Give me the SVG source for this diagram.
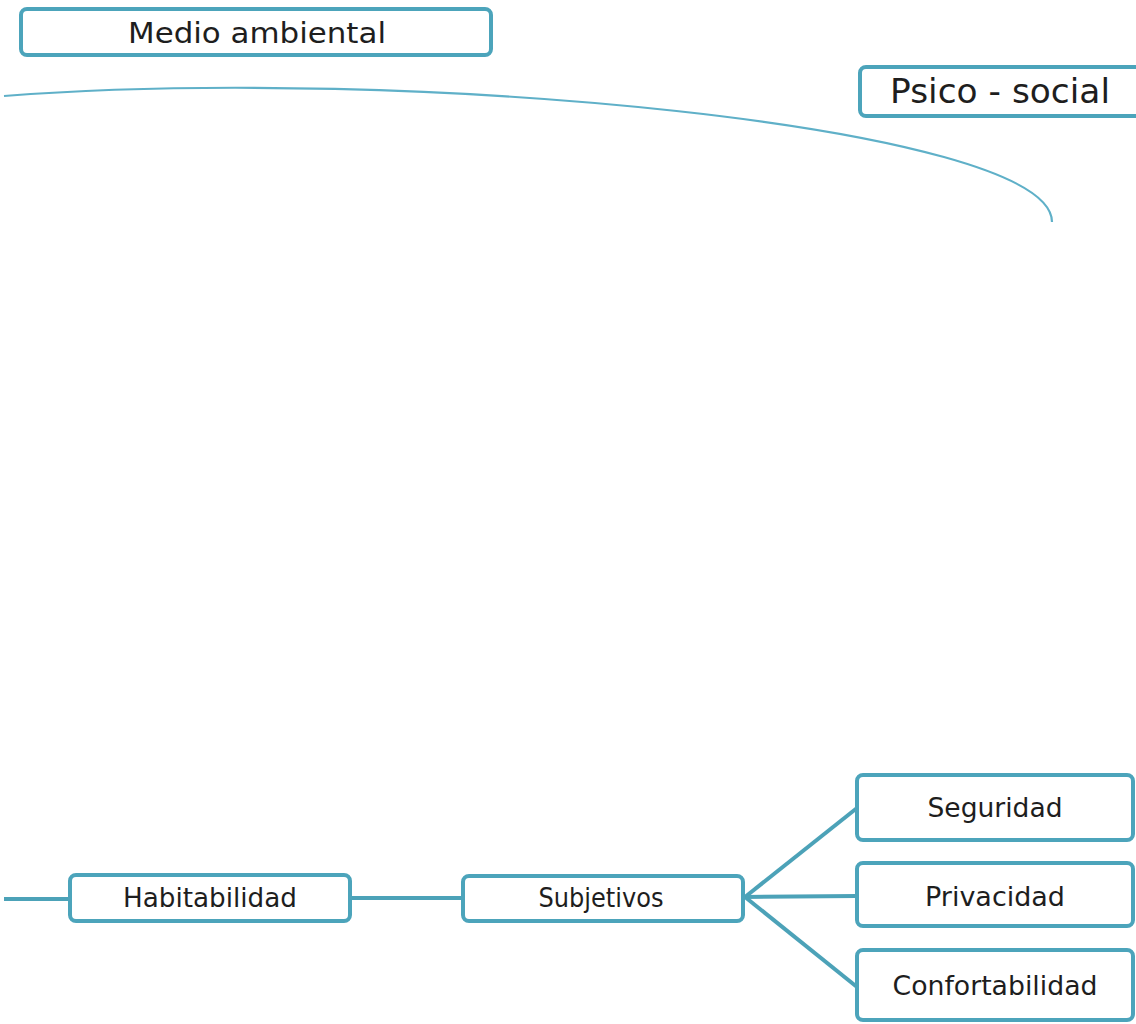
<svg xmlns="http://www.w3.org/2000/svg" width="1136" height="1024" viewBox="0 0 1136 1024">
<style>
.box{fill:#ffffff;stroke:#4ca4bb;stroke-width:4}
.lbl{font-family:"DejaVu Sans","Liberation Sans",sans-serif;fill:#1e1e1e;text-anchor:middle}
.conn{fill:none;stroke:#4ca2b8;stroke-width:4}
.arc{fill:none;stroke:#5fb0c8;stroke-width:2.2}
</style>
<rect width="1136" height="1024" fill="#ffffff"/>
<g id="connectors">
<path class="arc" d="M 4 96 C 400 65, 1052 125, 1052 222"/>
<line class="conn" x1="4" y1="899" x2="70" y2="899"/>
<line class="conn" x1="350" y1="898" x2="463" y2="898"/>
<line class="conn" x1="745" y1="897" x2="857" y2="808"/>
<line class="conn" x1="745" y1="897" x2="857" y2="896"/>
<line class="conn" x1="745" y1="897" x2="857" y2="987"/>
</g>
<g id="medio-ambiental">
<rect class="box" x="21" y="9" width="470" height="46" rx="6"/>
<text class="lbl" x="257" y="43" font-size="29" textLength="258" lengthAdjust="spacingAndGlyphs">Medio ambiental</text>
</g>
<g id="psico-social">
<rect class="box" x="860" y="67" width="290" height="49" rx="6"/>
<text class="lbl" x="1000" y="103" font-size="34" textLength="220" lengthAdjust="spacingAndGlyphs">Psico - social</text>
</g>
<g id="habitabilidad">
<rect class="box" x="70" y="875" width="280" height="46" rx="6"/>
<text class="lbl" x="210" y="907" font-size="26" textLength="174" lengthAdjust="spacingAndGlyphs">Habitabilidad</text>
</g>
<g id="subjetivos">
<rect class="box" x="463" y="876" width="280" height="45" rx="6"/>
<text class="lbl" x="601" y="907" font-size="26" textLength="125" lengthAdjust="spacingAndGlyphs">Subjetivos</text>
</g>
<g id="seguridad">
<rect class="box" x="857" y="775" width="276" height="65" rx="6"/>
<text class="lbl" x="995" y="817" font-size="26" textLength="135" lengthAdjust="spacingAndGlyphs">Seguridad</text>
</g>
<g id="privacidad">
<rect class="box" x="857" y="863" width="276" height="63" rx="6"/>
<text class="lbl" x="995" y="906" font-size="26" textLength="140" lengthAdjust="spacingAndGlyphs">Privacidad</text>
</g>
<g id="confortabilidad">
<rect class="box" x="857" y="950" width="276" height="70" rx="6"/>
<text class="lbl" x="995" y="995" font-size="26" textLength="205" lengthAdjust="spacingAndGlyphs">Confortabilidad</text>
</g>
</svg>
